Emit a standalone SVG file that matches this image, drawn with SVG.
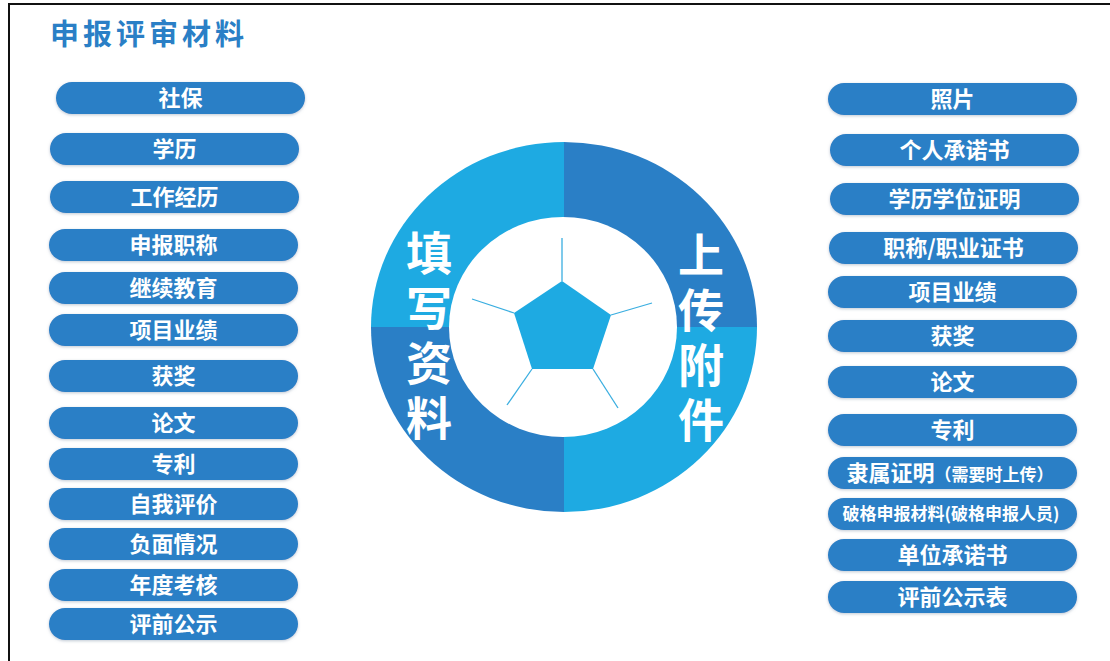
<svg xmlns="http://www.w3.org/2000/svg" width="1110" height="661" viewBox="0 0 1110 661">
<defs>
<filter id="sh" x="-10%" y="-40%" width="120%" height="180%">
<feDropShadow dx="0" dy="1" stdDeviation="1.6" flood-color="#8a9bb0" flood-opacity="0.55"/>
</filter>
<style>
.pill{fill:#2a7fc6;filter:url(#sh)}
.pt{font-family:"Noto Sans CJK SC","Noto Sans",sans-serif;font-weight:700;font-size:22px;fill:#ffffff;text-anchor:middle}
.sm{font-size:17px}
.big{font-family:"Noto Sans CJK SC","Noto Sans",sans-serif;font-weight:700;font-size:46px;fill:#ffffff;writing-mode:vertical-rl;letter-spacing:9px}
.lt{fill:#1eaae2}
.dk{fill:#2a7fc6}
.sp{stroke:#3aaee0;stroke-width:1.3;fill:none}
</style>
</defs>
<rect x="0" y="0" width="1110" height="661" fill="#ffffff"/>
<rect x="9" y="4" width="1200" height="800" fill="none" stroke="#111111" stroke-width="2"/>
<text x="50" y="45" font-family="Noto Sans CJK SC,Noto Sans,sans-serif" font-weight="700" font-size="29" letter-spacing="4" fill="#2a7fc6">申报评审材料</text>

<g id="wheel">
<path class="lt" d="M564,327 L371,327 A193,185 0 0 1 564,142 Z"/>
<path class="dk" d="M564,327 L564,142 A193,185 0 0 1 757,327 Z"/>
<path class="lt" d="M564,327 L757,327 A193,185 0 0 1 564,512 Z"/>
<path class="dk" d="M564,327 L564,512 A193,185 0 0 1 371,327 Z"/>
<ellipse cx="563" cy="327" rx="114" ry="110" fill="#ffffff"/>
<polygon class="lt" points="562,281 611,315 593,369 532,369 514,313"/>
<g class="sp">
<line x1="562" y1="281" x2="562" y2="238"/>
<line x1="611" y1="315" x2="652" y2="303"/>
<line x1="593" y1="369" x2="618" y2="408"/>
<line x1="532" y1="369" x2="507" y2="405"/>
<line x1="514" y1="313" x2="472" y2="299"/>
</g>
<text class="big" x="429" y="230">填写资料</text>
<text class="big" x="701" y="232">上传附件</text>
</g>

<g id="left">
<g id="l1"><rect class="pill" x="56" y="82" width="249" height="32" rx="16"/><text class="pt" x="180.5" y="106">社保</text></g>
<g id="l2"><rect class="pill" x="50" y="133" width="249" height="32" rx="16"/><text class="pt" x="174.5" y="157">学历</text></g>
<g id="l3"><rect class="pill" x="50" y="181" width="249" height="32" rx="16"/><text class="pt" x="174.5" y="205">工作经历</text></g>
<g id="l4"><rect class="pill" x="49" y="229" width="249" height="32" rx="16"/><text class="pt" x="173.5" y="253">申报职称</text></g>
<g id="l5"><rect class="pill" x="49" y="272" width="249" height="32" rx="16"/><text class="pt" x="173.5" y="296">继续教育</text></g>
<g id="l6"><rect class="pill" x="49" y="314" width="249" height="32" rx="16"/><text class="pt" x="173.5" y="338">项目业绩</text></g>
<g id="l7"><rect class="pill" x="49" y="360" width="249" height="32" rx="16"/><text class="pt" x="173.5" y="384">获奖</text></g>
<g id="l8"><rect class="pill" x="49" y="407" width="249" height="32" rx="16"/><text class="pt" x="173.5" y="431">论文</text></g>
<g id="l9"><rect class="pill" x="49" y="448" width="249" height="32" rx="16"/><text class="pt" x="173.5" y="472">专利</text></g>
<g id="l10"><rect class="pill" x="49" y="488" width="249" height="32" rx="16"/><text class="pt" x="173.5" y="512">自我评价</text></g>
<g id="l11"><rect class="pill" x="49" y="528" width="249" height="32" rx="16"/><text class="pt" x="173.5" y="552">负面情况</text></g>
<g id="l12"><rect class="pill" x="49" y="569" width="249" height="32" rx="16"/><text class="pt" x="173.5" y="593">年度考核</text></g>
<g id="l13"><rect class="pill" x="49" y="608" width="249" height="32" rx="16"/><text class="pt" x="173.5" y="632">评前公示</text></g>
</g>

<g id="right">
<g id="r1"><rect class="pill" x="828" y="83" width="249" height="32" rx="16"/><text class="pt" x="952.5" y="107">照片</text></g>
<g id="r2"><rect class="pill" x="830" y="134" width="249" height="32" rx="16"/><text class="pt" x="954.5" y="158">个人承诺书</text></g>
<g id="r3"><rect class="pill" x="830" y="183" width="249" height="32" rx="16"/><text class="pt" x="954.5" y="207">学历学位证明</text></g>
<g id="r4"><rect class="pill" x="829" y="232" width="249" height="32" rx="16"/><text class="pt" x="953.5" y="256">职称/职业证书</text></g>
<g id="r5"><rect class="pill" x="828" y="276" width="249" height="32" rx="16"/><text class="pt" x="952.5" y="300">项目业绩</text></g>
<g id="r6"><rect class="pill" x="828" y="320" width="249" height="32" rx="16"/><text class="pt" x="952.5" y="344">获奖</text></g>
<g id="r7"><rect class="pill" x="828" y="366" width="249" height="32" rx="16"/><text class="pt" x="952.5" y="390">论文</text></g>
<g id="r8"><rect class="pill" x="828" y="414" width="249" height="32" rx="16"/><text class="pt" x="952.5" y="438">专利</text></g>
<g id="r9"><rect class="pill" x="828" y="457" width="249" height="32" rx="16"/><text class="pt" x="950" y="481">隶属证明<tspan class="sm">（需要时上传）</tspan></text></g>
<g id="r10"><rect class="pill" x="828" y="498" width="249" height="32" rx="16"/><text class="pt sm" x="951" y="520">破格申报材料(破格申报人员)</text></g>
<g id="r11"><rect class="pill" x="828" y="539" width="249" height="32" rx="16"/><text class="pt" x="952.5" y="563">单位承诺书</text></g>
<g id="r12"><rect class="pill" x="828" y="581" width="249" height="32" rx="16"/><text class="pt" x="952.5" y="605">评前公示表</text></g>
</g>
<g id="connectors"></g>
</svg>
